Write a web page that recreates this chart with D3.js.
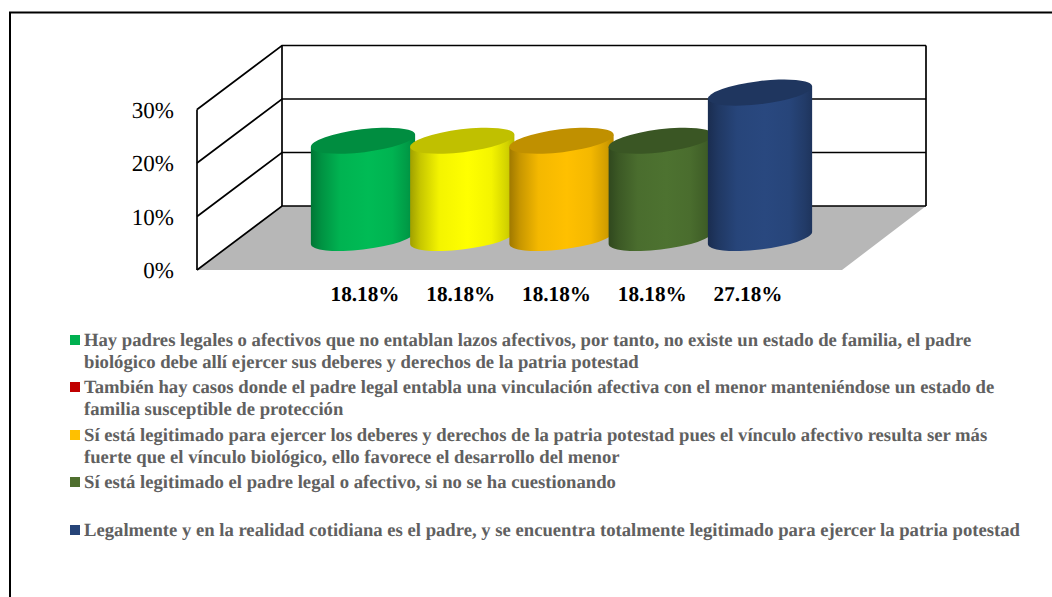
<!DOCTYPE html>
<html>
<head>
<meta charset="utf-8">
<script src="https://cdn.jsdelivr.net/npm/d3@7"></script>
<style>
  html, body { margin: 0; padding: 0; background: #fff; }
  svg { display: block; font-family: "Liberation Serif", serif; text-rendering: geometricPrecision; }
</style>
</head>
<body>
<div id="chart"></div>
<script>
// Data
const barNames = ["a", "b", "c", "d", "e"];
const barValues = [18.18, 18.18, 18.18, 18.18, 27.18];
const barLabels = ["18.18%", "18.18%", "18.18%", "18.18%", "27.18%"];
const barColors = ["#00bb55", "#ffff00", "#ffc000", "#4d7230", "#29487f"];
const tickValues = [0, 10, 20, 30];
const legendColors = ["#00b050", "#c00000", "#ffc000", "#4f6f2f", "#264478"];
const legendLines = [
  ["Hay padres legales o afectivos que no entablan lazos afectivos, por tanto, no existe un estado de familia, el padre",
   "biológico debe allí ejercer sus deberes y derechos de la patria potestad"],
  ["También hay casos donde el padre legal entabla una vinculación afectiva con el menor manteniéndose un estado de",
   "familia susceptible de protección"],
  ["Sí está legitimado para ejercer los deberes y derechos de la patria potestad pues el vínculo afectivo resulta ser más",
   "fuerte que el vínculo biológico, ello favorece el desarrollo del menor"],
  ["Sí está legitimado el padre legal o afectivo, si no se ha cuestionando"],
  ["Legalmente y en la realidad cotidiana es el padre, y se encuentra totalmente legitimado para ejercer la patria potestad"]
];

const width = 1052;
const height = 597;

const svg = d3.select("#chart").append("svg")
    .attr("width", width)
    .attr("height", height);

// Outer frame, only top and left are in view
svg.append("path")
    .attr("d", `M10,${height} V12.5 H${width}`)
    .attr("fill", "none")
    .attr("stroke", "#000")
    .attr("stroke-width", 2);

// Box corners
const front = { x: 197, y: 270 };
const back = { x: 282, y: 206 };
const backRight = 926;
const frontRight = 842;

// value -> pixels above the floor
const lift = d3.scaleLinear().domain([0, 30]).range([0, 160.5]);

// Floor
svg.append("path")
    .attr("d", `M${front.x},${front.y} L${back.x},${back.y} H${backRight} L${frontRight},${front.y} Z`)
    .attr("fill", "#b7b7b7");

// Gridlines on both walls
const grid = svg.append("g")
    .attr("fill", "none")
    .attr("stroke", "#000")
    .attr("stroke-width", 1.7);

grid.selectAll("path")
  .data(tickValues)
  .join("path")
    .attr("d", d => `M${front.x},${front.y - lift(d)} L${back.x},${back.y - lift(d)} H${backRight}`);

grid.append("path").attr("d", `M${front.x},${front.y} V${front.y - lift(30)}`);
grid.append("path").attr("d", `M${back.x},${back.y} V${back.y - lift(30)}`);
grid.append("path").attr("d", `M${backRight},${back.y} V${back.y - lift(30)}`);

// Tick labels
svg.append("g")
  .selectAll("text")
  .data(tickValues)
  .join("text")
    .attr("x", 174)
    .attr("y", d => front.y - lift(d) + 8)
    .attr("text-anchor", "end")
    .attr("font-size", 23)
    .text(d => d + "%");

// Cylinders
const band = d3.scalePoint().domain(barNames).range([363, 760]);
const floorY = 238;
const rx = 52.5;
const ry = 11.5;
const tilt = -7 * Math.PI / 180;

// Points where the tilted ellipse is widest, the walls start there
const t = Math.atan(-(ry / rx) * Math.tan(tilt));
const tanX = rx * Math.cos(t) * Math.cos(tilt) - ry * Math.sin(t) * Math.sin(tilt);
const tanY = rx * Math.cos(t) * Math.sin(tilt) + ry * Math.sin(t) * Math.cos(tilt);
const tiltDeg = tilt * 180 / Math.PI;

const defs = svg.append("defs");
const grads = defs.selectAll("linearGradient")
  .data(barNames)
  .join("linearGradient")
    .attr("id", d => "bar-" + d);

grads.selectAll("stop")
  .data((d, i) => [
    [0, d3.rgb(barColors[i]).darker(1.3)],
    [0.1, d3.rgb(barColors[i]).darker(0.7)],
    [0.28, d3.rgb(barColors[i]).darker(0.12)],
    [0.55, d3.rgb(barColors[i])],
    [0.78, d3.rgb(barColors[i]).darker(0.12)],
    [0.93, d3.rgb(barColors[i]).darker(0.55)],
    [1, d3.rgb(barColors[i]).darker(0.9)]
  ])
  .join("stop")
    .attr("offset", d => d[0])
    .attr("stop-color", d => d[1]);

const bars = svg.append("g")
  .selectAll("g")
  .data(barNames)
  .join("g");

bars.append("path")
    .attr("fill", d => `url(#bar-${d})`)
    .attr("d", (d, i) => {
      const cx = band(d);
      const top = floorY - lift(barValues[i]);
      return `M${cx - tanX},${top - tanY} V${floorY - tanY}` +
        ` A${rx},${ry} ${tiltDeg} 0 0 ${cx + tanX},${floorY + tanY}` +
        ` V${top + tanY} Z`;
    });

bars.append("ellipse")
    .attr("rx", rx)
    .attr("ry", ry)
    .attr("transform", (d, i) => `translate(${band(d)},${floorY - lift(barValues[i])}) rotate(${tiltDeg})`)
    .attr("fill", (d, i) => d3.rgb(barColors[i]).darker(0.8));

// Value labels
const labelX = d3.scalePoint().domain(barNames).range([365, 748]);

svg.append("g")
  .selectAll("text")
  .data(barNames)
  .join("text")
    .attr("x", d => labelX(d))
    .attr("y", 301)
    .attr("text-anchor", "middle")
    .attr("font-size", 21.2)
    .attr("font-weight", "bold")
    .text((d, i) => barLabels[i]);

// Legend
const legendY = [340, 387, 435, 482, 530];
const lineGap = 21.5;

const legend = svg.append("g")
  .selectAll("g")
  .data(legendLines)
  .join("g")
    .attr("transform", (d, i) => `translate(0,${legendY[i]})`);

legend.append("rect")
    .attr("x", 70)
    .attr("y", -5)
    .attr("width", 10)
    .attr("height", 10)
    .attr("fill", (d, i) => legendColors[i]);

legend.selectAll("text")
  .data(d => d)
  .join("text")
    .attr("x", 84)
    .attr("y", (d, i) => i * lineGap + 6)
    .attr("font-size", 18.67)
    .attr("font-weight", "bold")
    .attr("fill", "#606060")
    .text(d => d);
</script>
</body>
</html>
